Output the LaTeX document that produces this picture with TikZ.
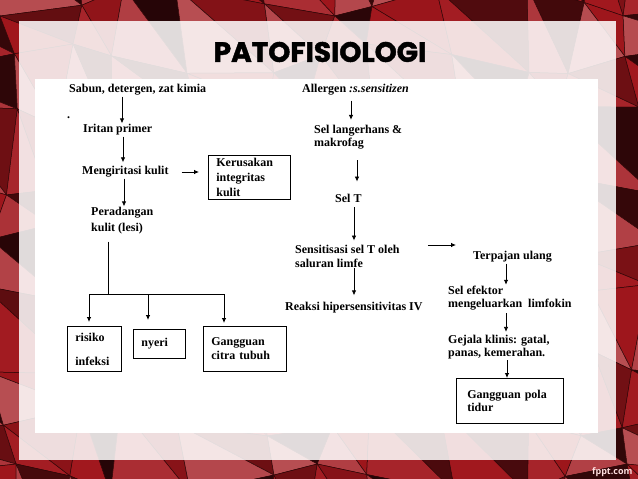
\documentclass[tikz,border=0pt]{standalone}
\usepackage{fontspec}
\setmainfont{Liberation Serif}
\newfontfamily\titlefont{Poppins}[BoldFeatures={FakeBold=1.5}]
\newfontfamily\markfont{Open Sans}
\usetikzlibrary{arrows.meta}

\definecolor{bgred}{RGB}{160,22,28}

\tikzset{
  txt/.style={anchor=west, inner sep=1pt, align=left, font=\bfseries\fontsize{12}{13}\selectfont},
  box/.style={txt, draw, line width=0.8pt, anchor=north west, inner xsep=8pt},
  arr/.style={-{Latex[length=5pt,width=4.5pt]}, line width=0.8pt},
  declare function={px(\i,\j)=64*\i+18*sin(97*\i+53*\j); py(\i,\j)=60*\j+16*cos(71*\i+113*\j);}
}

\begin{document}
\begin{tikzpicture}[x=1pt, y=-1pt]
    \useasboundingbox (0,0) rectangle (638,479);

    % background
    \fill[bgred!70!black] (0,0) rectangle (638,479);
    \foreach \i in {-1,...,10}{
        \foreach \j in {-1,...,8}{
            \pgfmathtruncatemacro{\sa}{62+38*sin(131*\i+71*\j)}
            \pgfmathtruncatemacro{\sb}{88+12*cos(57*\i+149*\j)}
            \filldraw[fill=bgred!\sa!black, draw=black!70!bgred, line width=0.5pt]
                ({px(\i,\j)},{py(\i,\j)}) -- ({px(\i+1,\j)},{py(\i+1,\j)}) -- ({px(\i+1,\j+1)},{py(\i+1,\j+1)}) -- cycle;
            \filldraw[fill=bgred!\sb!white, draw=black!70!bgred, line width=0.5pt]
                ({px(\i,\j)},{py(\i,\j)}) -- ({px(\i,\j+1)},{py(\i,\j+1)}) -- ({px(\i+1,\j+1)},{py(\i+1,\j+1)}) -- cycle;
        }
    }
    \fill[white, opacity=0.86] (19,21) rectangle (616,460);
    \fill[white] (35,79) rectangle (598,433);

    \node[font=\titlefont\bfseries\fontsize{28}{28}\selectfont] (title) at (320,52) {PATOFISIOLOGI};
    \node[font=\markfont\bfseries\fontsize{9}{9}\selectfont, text=red!12!white, anchor=east] (fppt) at (636,472) {fppt.com};

    % left column
    \node[txt] (sabun) at (68,90) {Sabun, detergen, zat kimia};
    \node[txt, anchor=base west] (dot) at (66,118) {.};
    \node[txt] (iritan) at (82,130) {Iritan primer};
    \node[txt] (meng) at (81,172) {Mengiritasi kulit};
    \node[box, text width=66pt, minimum height=44pt, font=\bfseries\fontsize{12}{15}\selectfont] (kerusakan) at (208,155) {Kerusakan\\integritas\\kulit};
    \node[txt, font=\bfseries\fontsize{12}{16}\selectfont] (peradangan) at (90,221) {Peradangan\\kulit (lesi)};

    \node[box, text width=38pt, minimum height=45pt, font=\bfseries\fontsize{12}{24}\selectfont] (risiko) at (67,326) {risiko\\infeksi};
    \node[box, text width=36pt, minimum height=29pt] (nyeri) at (133,329) {nyeri};
    \node[box, text width=67pt, minimum height=45pt, font=\bfseries\fontsize{12}{14}\selectfont] (citra) at (203,326) {Gangguan\\citra tubuh};

    \draw[arr] ([xshift=54pt]sabun.south west) -- ([xshift=40pt]iritan.north west);
    \draw[arr, shorten >=3pt] ([xshift=41pt]iritan.south west) -- ([xshift=42pt]meng.north west);
    \draw[arr, shorten <=12pt, shorten >=9pt] (meng.east) -- (meng.east -| kerusakan.west);
    \draw[arr] ([xshift=43pt]meng.south west) -- ([xshift=34pt]peradangan.north west);

    \coordinate (j) at (108,294);
    \coordinate (b1) at (89,294);
    \coordinate (b2) at (148,294);
    \coordinate (b3) at (224,294);
    \draw[line width=0.8pt, shorten <=6pt] (peradangan.south -| j) -- (j);
    \draw[line width=0.8pt] (b1) -- (b3);
    \draw[arr, shorten >=4pt] (b1) -- (b1 |- risiko.north);
    \draw[arr, shorten >=9pt] (b2) -- (b2 |- nyeri.north);
    \draw[arr, shorten >=3pt] (b3) -- (b3 |- citra.north);

    % right column
    \node[txt] (allergen) at (301,90) {Allergen \textit{:s.sensitizen}};
    \node[txt] (langer) at (313,137) {Sel langerhans \&\\makrofag};
    \node[txt] (selT) at (334,198) {Sel T};
    \node[txt, font=\bfseries\fontsize{12}{14}\selectfont] (sensit) at (294,256) {Sensitisasi sel T oleh\\saluran limfe};
    \node[txt] (terpajan) at (472,257) {Terpajan ulang};
    \node[txt] (reaksi) at (284,308) {Reaksi hipersensitivitas IV};
    \node[txt] (efektor) at (447,298) {Sel efektor\\mengeluarkan\ \ limfokin};
    \node[txt] (gejala) at (447,347) {Gejala klinis: gatal,\\panas, kemerahan.};
    \node[box, text width=85pt, minimum height=45pt, inner xsep=11pt] (pola) at (456,378) {Gangguan pola\\tidur};

    \draw[arr, shorten <=4pt, shorten >=4pt] ([xshift=50pt]allergen.south west) -- ([xshift=38pt]langer.north west);
    \draw[arr, shorten <=10pt, shorten >=11pt] ([xshift=44pt]langer.south west) -- ([xshift=23pt]selT.north west);
    \draw[arr, shorten <=4pt, shorten >=3pt] ([xshift=20pt]selT.south west) -- ([xshift=60pt]sensit.north west);
    \draw[arr, shorten >=6pt] ([xshift=60pt]sensit.south west) -- ([xshift=70pt]reaksi.north west);
    \coordinate (sx) at ([yshift=11pt]sensit.east);
    \draw[arr, shorten <=27pt, shorten >=16pt] (sx) -- (sx -| terpajan.west);
    \draw[arr] ([xshift=34pt]terpajan.south west) -- ([xshift=59pt]efektor.north west);
    \draw[arr, shorten <=2pt, shorten >=2pt] ([xshift=59pt]efektor.south west) -- ([xshift=59pt]gejala.north west);
    \draw[arr] ([xshift=60pt]gejala.south west) -- ([xshift=51pt]pola.north west);
\end{tikzpicture}
\end{document}
